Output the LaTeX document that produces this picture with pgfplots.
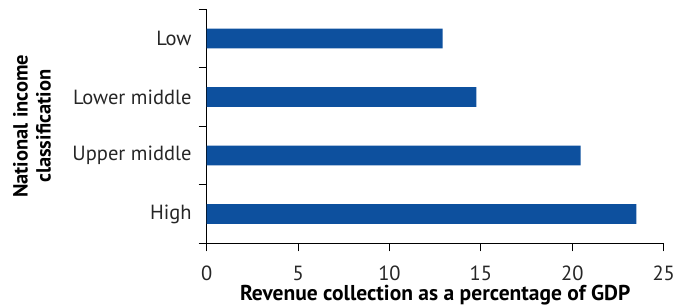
\documentclass[border=0pt]{standalone}
\usepackage{fontspec}
\setmainfont{PT Sans}
\usepackage{pgfplots}
\pgfplotsset{compat=1.18}
\definecolor{barblue}{RGB}{13,80,158}
\begin{document}
\begin{tikzpicture}
\begin{axis}[
  scale only axis,
  width=457pt, height=234pt,
  xbar, bar width=0.34,
  xmin=0, xmax=25,
  ymin=-0.5, ymax=3.5,
  xtick={0,5,...,25},
  ytick={0,1,2,3},
  yticklabels={High,Upper middle,Lower middle,Low},
  minor ytick={-0.5,0.5,1.5,2.5,3.5},
  axis lines*=left,
  axis line style={line width=0.9pt, black},
  tick align=outside,
  major tick length=8pt,
  minor tick length=8pt,
  major y tick style={draw=none},
  minor y tick style={line width=0.9pt, black},
  major x tick style={line width=0.9pt, black},
  tick label style={font=\fontsize{20.5}{24}\selectfont, text=black!85},
  yticklabel style={inner sep=0pt, xshift=-7pt},
  xticklabel style={anchor=base, yshift=-29pt, inner sep=0pt},
  /pgf/number format/assume math mode=true,
  xlabel={\textbf{Revenue collection as a percentage of GDP}},
  ylabel={\textbf{National income}\\\textbf{classification}},
  ylabel style={align=center, font=\fontsize{20.5}{23}\selectfont, at={(axis description cs:-0.3407,0.5)}, anchor=south, inner sep=0pt},
  xlabel style={font=\fontsize{21.5}{24}\selectfont, at={(axis description cs:0.5,0)}, anchor=base, yshift=-57pt, inner sep=0pt},
  clip=false,
]
\addplot[fill=barblue, draw=none] coordinates {(23.5,0) (20.45,1) (14.75,2) (12.9,3)};
\end{axis}
\path[use as bounding box] ([shift={(-206.7pt,-62.7pt)}]current axis.south west) rectangle ([shift={(468.3pt,243.3pt)}]current axis.south west);
\end{tikzpicture}
\end{document}
